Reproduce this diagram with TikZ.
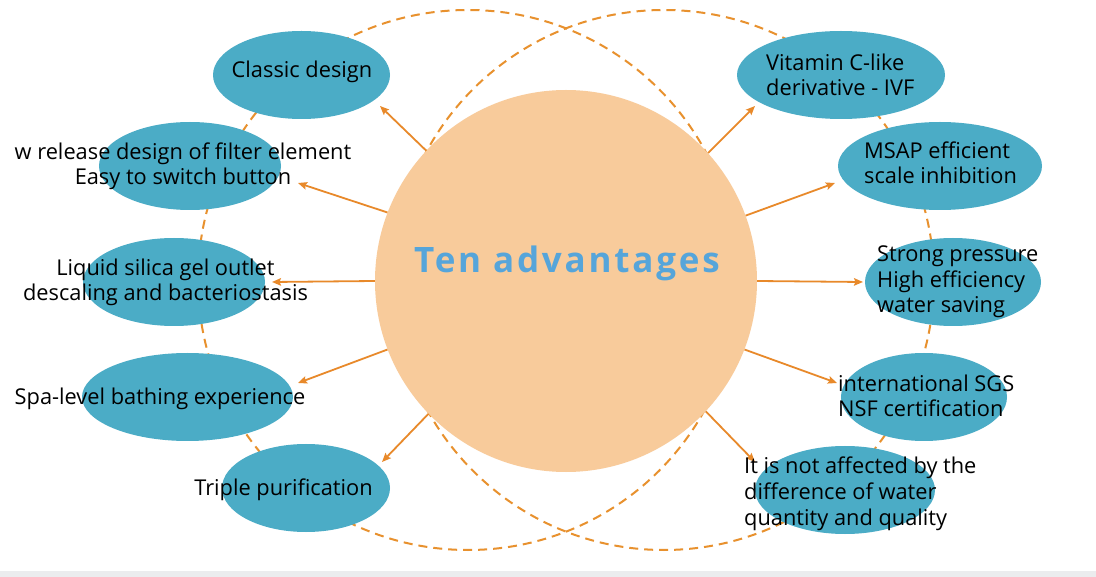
\documentclass[tikz,border=0pt]{standalone}
\usepackage{fontspec}
\setmainfont{Open Sans}
\usetikzlibrary{arrows.meta,shapes.geometric}
\definecolor{peach}{HTML}{F8CB9B}
\definecolor{aqua}{HTML}{4BACC6}
\definecolor{ttlblue}{HTML}{56A5DA}
\definecolor{orng}{HTML}{E8892A}
\definecolor{dashorng}{HTML}{E8912E}
\definecolor{barg}{HTML}{EBECEE}
\tikzset{
  blob/.style={ellipse, fill=aqua, draw=none, inner sep=0pt},
  dashc/.style={draw=dashorng, line width=2pt, dash pattern=on 9pt off 6pt},
  arr/.style={draw=orng, line width=1.8pt, -{Stealth[length=9pt,width=7.5pt,inset=1.5pt]}},
  lbl/.style={font=\fontsize{21.8}{25.7}\selectfont, text=black, inner sep=0pt},
}
\begin{document}
\begin{tikzpicture}[x=1pt,y=-1pt]
\useasboundingbox (0,0) rectangle (1096,577);
\fill[white] (0,0) rectangle (1096,577);
\fill[barg] (0,571) rectangle (1096,577);
% dashed circles
\draw[dashc] (468,280) circle[radius=270];
\draw[dashc] (664,280) circle[radius=270];
% ellipses
\node[blob, minimum width=177, minimum height=88] (E1) at (301.5,75) {};
\node[blob, minimum width=182, minimum height=88] (E2) at (190,166) {};
\node[blob, minimum width=182, minimum height=88] (E3) at (174,282) {};
\node[blob, minimum width=211, minimum height=88] (E4) at (187.5,397) {};
\node[blob, minimum width=168, minimum height=88] (E5) at (306,488) {};
\node[blob, minimum width=208, minimum height=88] (E6) at (841,75) {};
\node[blob, minimum width=204, minimum height=88] (E7) at (940,166) {};
\node[blob, minimum width=176, minimum height=88] (E8) at (953,282) {};
\node[blob, minimum width=166, minimum height=88] (E9) at (924,397) {};
\node[blob, minimum width=180, minimum height=88] (E10) at (845,490) {};
% central circle
\node[circle, fill=peach, minimum size=382, inner sep=0pt] (C) at (566,281) {};
\node[inner sep=0pt, anchor=base, text=ttlblue, font=\fontsize{35}{40}\selectfont\bfseries\addfontfeature{LetterSpace=8}] (T0) at (567,273) {Ten advantages};
% arrow tips
\coordinate (a1) at (380,106);
\coordinate (a2) at (298,183);
\coordinate (a3) at (272,282);
\coordinate (a4) at (298,383);
\coordinate (a5) at (382,462);
\coordinate (a6) at (755,106);
\coordinate (a7) at (835,183);
\coordinate (a8) at (863,282);
\coordinate (a9) at (837,383);
\coordinate (a10) at (755,462);
\draw[arr] (C.137) -- (a1);
\draw[arr] (C.159) -- (a2);
\draw[arr] (C.180) -- (a3);
\draw[arr] (C.201.5) -- (a4);
\draw[arr] (C.224.4) -- (a5);
\draw[arr] (C.42.5) -- (a6);
\draw[arr] (C.20.4) -- (a7);
\draw[arr] (C.0) -- (a8);
\draw[arr] (C.-21.4) -- (a9);
\draw[arr] (C.-43.3) -- (a10);
% labels (base = baseline of last line)
\node[lbl, anchor=base] (T1) at (302,78) {Classic design};
\node[lbl, anchor=base, align=center] (T2) at (183,185) {w release design of filter element\\Easy to switch button};
\node[lbl, anchor=base, align=center] (T3) at (165.5,301) {Liquid silica gel outlet\\descaling and bacteriostasis};
\node[lbl, anchor=base] (T4) at (160,405) {Spa-level bathing experience};
\node[lbl, anchor=base] (T5) at (283.5,496) {Triple purification};
\node[lbl, anchor=base west, align=left] (T6) at (766,96) {Vitamin C-like\\derivative - IVF};
\node[lbl, anchor=base west, align=left] (T7) at (864,184) {MSAP efficient\\scale inhibition};
\node[lbl, anchor=base west, align=left] (T8) at (877,313) {Strong pressure\\High efficiency\\water saving};
\node[lbl, anchor=base west, align=left] (T9) at (838,417) {international SGS\\NSF certification};
\node[lbl, anchor=base west, align=left] (T10) at (744,525) {It is not affected by the\\difference of water\\quantity and quality};
\end{tikzpicture}
\end{document}
